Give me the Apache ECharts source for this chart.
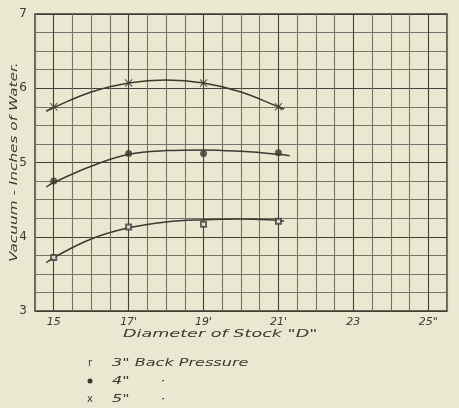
<!DOCTYPE html>
<html>
<head>
<meta charset="utf-8">
<script src="https://cdn.jsdelivr.net/npm/echarts@6/dist/echarts.min.js"></script>
<style>
html,body{margin:0;padding:0;background:#e9e8d0;}
#chart{width:459px;height:408px;}
</style>
</head>
<body>
<div id="chart"></div>
<script>
// Measured points (stack diameter in inches)
const diameters = [15, 17, 19, 21];
const pressure3 = [3.72, 4.13, 4.17, 4.21];
const pressure4 = [4.75, 5.12, 5.12, 5.13];
const pressure5 = [5.75, 6.07, 6.07, 5.75];

// Hand-drawn fitted curves
const curve3X = [14.8, 15, 16, 17, 18, 19, 20, 21, 21.15];
const curve3Y = [3.65, 3.72, 3.97, 4.12, 4.20, 4.23, 4.24, 4.22, 4.21];
const curve4X = [14.8, 15, 16, 17, 18, 19, 20, 21, 21.3];
const curve4Y = [4.67, 4.73, 4.95, 5.11, 5.16, 5.17, 5.15, 5.11, 5.09];
const curve5X = [14.8, 15, 16, 17, 18, 19, 20, 21, 21.15];
const curve5Y = [5.69, 5.74, 5.95, 6.07, 6.11, 6.07, 5.95, 5.75, 5.72];

// Tick labels
const xTickValues = [15, 17, 19, 21, 23, 25];
const xTickLabels = ['15', '17\'', '19\'', '21\'', '23', '25"'];
const yTickValues = [3, 4, 5, 6, 7];
const yTickLabels = ['3', '4', '5', '6', '7'];

const xTitle = 'Diameter of Stock "D"';
const yTitle = 'Vacuum - Inches of Water.';
const legendLabels = ['3" Back Pressure', '4"      ·', '5"      ·'];

const ink = '#3a3a31';
const font = 'DejaVu Sans';
const xMarkPath = 'path://M0,1L1,0L5,4L9,0L10,1L6,5L10,9L9,10L5,6L1,10L0,9L4,5Z';

function pairs(xs, ys) { return xs.map((x, i) => [x, ys[i]]); }

const chart = echarts.init(document.getElementById('chart'), null, {renderer: 'canvas'});
chart.setOption({
  animation: false,
  backgroundColor: '#e9e8d0',
  grid: {left: 35, right: 12, top: 14, bottom: 97, show: true, borderColor: ink, borderWidth: 1.5, backgroundColor: 'transparent'},
  xAxis: {
    type: 'value', min: 14.5, max: 25.5, interval: 0.5,
    axisLine: {show: false}, axisTick: {show: false},
    axisLabel: {
      color: ink, fontFamily: font, fontStyle: 'italic', fontSize: 11, margin: 6,
      formatter: v => { const i = xTickValues.indexOf(v); return i >= 0 ? xTickLabels[i] : ''; }
    },
    splitLine: {show: true, lineStyle: {color: ['#74746a', '#404037', '#74746a', '#74746a'], width: 1.1}}
  },
  yAxis: {
    type: 'value', min: 3, max: 7, interval: 0.25,
    axisLine: {show: false}, axisTick: {show: false},
    axisLabel: {
      color: ink, fontFamily: font, fontSize: 12, margin: 8,
      formatter: v => { const i = yTickValues.indexOf(v); return i >= 0 ? yTickLabels[i] : ''; }
    },
    splitLine: {show: true, lineStyle: {color: ['#404037', '#74746a', '#74746a', '#74746a'], width: 1.1}}
  },
  series: [
    {type: 'line', data: pairs(curve3X, curve3Y), smooth: 0.4, showSymbol: false, lineStyle: {color: ink, width: 1.5}, z: 3},
    {type: 'line', data: pairs(curve4X, curve4Y), smooth: 0.4, showSymbol: false, lineStyle: {color: ink, width: 1.5}, z: 3},
    {type: 'line', data: pairs(curve5X, curve5Y), smooth: 0.4, showSymbol: false, lineStyle: {color: ink, width: 1.5}, z: 3},
    {type: 'scatter', data: pairs(diameters, pressure3), symbol: 'emptyRect', symbolSize: 5, itemStyle: {color: ink, borderColor: ink, borderWidth: 1.5}, z: 4},
    {type: 'scatter', data: pairs(diameters, pressure4), symbol: 'circle', symbolSize: 7, itemStyle: {color: ink}, z: 4},
    {type: 'scatter', data: pairs(diameters, pressure5), symbol: xMarkPath, symbolSize: 8, itemStyle: {color: ink}, z: 4}
  ],
  graphic: [
    {type: 'text', x: 123, y: 334, scaleX: 1.6, style: {text: xTitle, fill: ink, font: 'italic 11px "DejaVu Sans"', verticalAlign: 'middle'}},
    {type: 'text', x: 14, y: 262, rotation: Math.PI / 2, scaleX: 1.39, style: {text: yTitle, fill: ink, font: 'italic 11px "DejaVu Sans"', verticalAlign: 'middle'}},
    {type: 'text', x: 90, y: 363, style: {text: 'r', fill: ink, font: '10px "DejaVu Sans"', align: 'center', verticalAlign: 'middle'}},
    {type: 'circle', shape: {cx: 90, cy: 381, r: 2.5}, style: {fill: ink}},
    {type: 'text', x: 90, y: 399, style: {text: 'x', fill: ink, font: '10px "DejaVu Sans"', align: 'center', verticalAlign: 'middle'}},
    {type: 'text', x: 112, y: 363, scaleX: 1.46, style: {text: legendLabels[0], fill: ink, font: 'italic 11px "DejaVu Sans"', verticalAlign: 'middle'}},
    {type: 'text', x: 112, y: 381, scaleX: 1.46, style: {text: legendLabels[1], fill: ink, font: 'italic 11px "DejaVu Sans"', verticalAlign: 'middle'}},
    {type: 'text', x: 112, y: 399, scaleX: 1.46, style: {text: legendLabels[2], fill: ink, font: 'italic 11px "DejaVu Sans"', verticalAlign: 'middle'}}
  ]
});
</script>
</body>
</html>
